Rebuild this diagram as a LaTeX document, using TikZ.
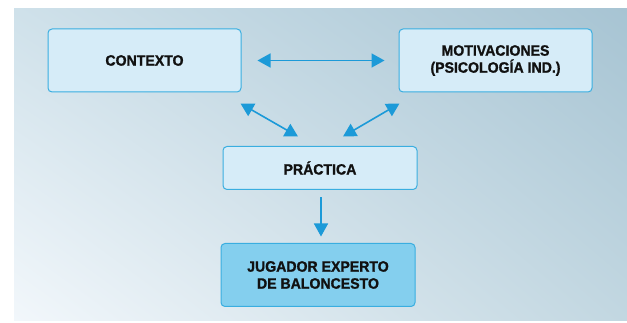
\documentclass[tikz,border=0pt]{standalone}
\usepackage{fontspec}
\setmainfont{Liberation Sans}[FakeStretch=0.94, BoldFeatures={FakeBold=1.2}]
\usetikzlibrary{arrows.meta,calc,shadings}
\definecolor{boxline}{HTML}{3AAEE0}
\definecolor{boxfill}{HTML}{D6ECF8}
\definecolor{boxfilldark}{HTML}{84CFEE}
\definecolor{arrowc}{HTML}{1C9AD8}
\definecolor{txt}{HTML}{111111}
\definecolor{bgBL}{HTML}{F2F7FB}
\definecolor{bgTL}{HTML}{CFE1EA}
\definecolor{bgBR}{HTML}{C2D7E1}
\definecolor{bgTR}{HTML}{A7C4D3}
\begin{document}
\begin{tikzpicture}[x=1pt,y=-1pt,
  stepbox/.style={draw=boxline, line width=1pt, fill=boxfill, rounded corners=4pt, text=txt,
    minimum width=193pt, align=center, font=\fontsize{15}{17}\selectfont\bfseries, inner sep=0pt},
  conn/.style={draw=arrowc, line width=1.6pt, {Triangle[length=13pt,width=14pt]}-{Triangle[length=13pt,width=14pt]}},
  conn1/.style={draw=arrowc, line width=1.6pt, -{Triangle[length=13pt,width=14pt]}}]
\useasboundingbox (0,0) rectangle (627,323);
\fill[white] (0,0) rectangle (627,323);
\shade[lower left=bgBL, upper left=bgTL, lower right=bgBR, upper right=bgTR] (14,321) rectangle (627,9);
\node[stepbox, minimum height=63pt] (ctx) at (144.5,60.5) {CONTEXTO};
\node[stepbox, minimum height=63pt] (mot) at (495.5,60.5) {MOTIVACIONES\\(PSICOLOGÍA IND.)};
\node[stepbox, minimum height=43pt, minimum width=194pt] (prac) at (320,168) {PRÁCTICA};
\node[stepbox, minimum height=63pt, minimum width=194pt, fill=boxfilldark] (jug) at (318,275) {JUGADOR EXPERTO\\DE BALONCESTO};
\draw[conn] ($(ctx.east)+(16,0)$) -- ($(mot.west)+(-14,0)$);
\draw[conn] ($(ctx.south east)+(-1,11)$) -- ($(prac.north)+(-22,-9.5)$);
\draw[conn] ($(mot.south west)+(1,11)$) -- ($(prac.north)+(23,-9.5)$);
\draw[conn1] ($(prac.south)+(1,7.5)$) -- ($(jug.north)+(3,-6.5)$);
\end{tikzpicture}
\end{document}
